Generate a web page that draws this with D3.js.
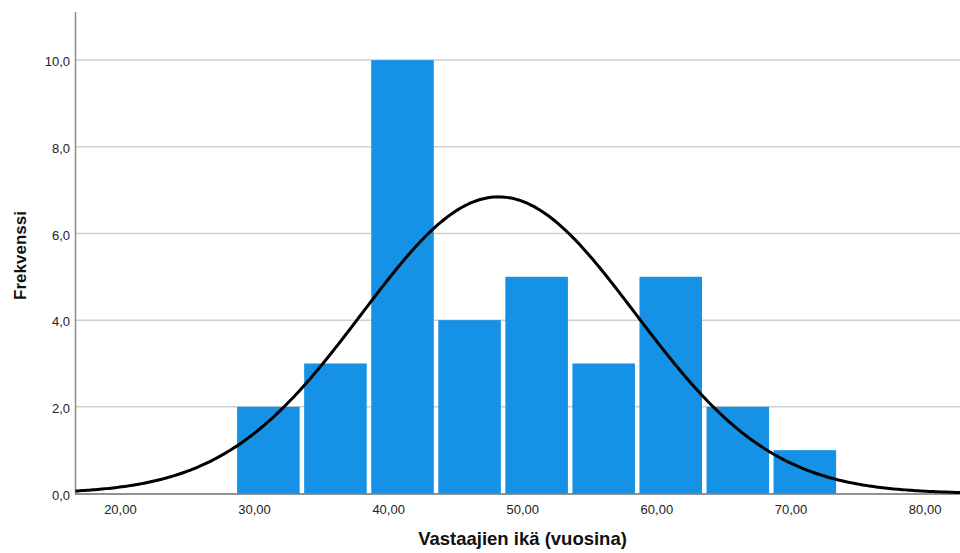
<!DOCTYPE html>
<html><head><meta charset="utf-8">
<script src="https://cdn.jsdelivr.net/npm/d3@7"></script>
<style>html,body{margin:0;padding:0;background:#fff;}svg{display:block;}</style>
</head><body>
<svg id="chart" width="960" height="553"></svg>
<script>
// Data
const binStart = 28.7;
const binWidth = 5;
const counts = [2, 3, 10, 4, 5, 3, 5, 2, 1];
const yTicks = [0, 2, 4, 6, 8, 10];
const xTicks = [20, 30, 40, 50, 60, 70, 80];
const curveMean = 48.2;
const curveSd = 10.2;
const totalN = 35;
const xLabel = "Vastaajien ikä (vuosina)";
const yLabel = "Frekvenssi";

const svg = d3.select("#chart");
const x = d3.scaleLinear().domain([16.65, 82.6]).range([75.5, 960]);
const y = d3.scaleLinear().domain([0, 11.11]).range([493.5, 12]);
const fmtY = v => d3.format(".1f")(v).replace(".", ",");
const fmtX = v => d3.format(".2f")(v).replace(".", ",");

// gridlines
svg.append("g").selectAll("line").data(yTicks.filter(d => d > 0)).join("line")
  .attr("x1", x.range()[0]).attr("x2", 960)
  .attr("y1", d => y(d)).attr("y2", d => y(d))
  .attr("stroke", "#cfcfcf").attr("stroke-width", 1.5);

// bars
const bins = counts.map((c, i) => ({x0: binStart + i * binWidth, x1: binStart + (i + 1) * binWidth, c}));
svg.append("g").selectAll("rect").data(bins).join("rect")
  .attr("x", d => x(d.x0))
  .attr("width", d => x(d.x1) - x(d.x0) - 4.5)
  .attr("y", d => y(d.c))
  .attr("height", d => y(0) - y(d.c))
  .attr("fill", "#1591e6");

// axes lines
svg.append("line").attr("x1", 75.5).attr("x2", 75.5).attr("y1", 12).attr("y2", 494)
  .attr("stroke", "#8c8c8c").attr("stroke-width", 1.5);
svg.append("line").attr("x1", 75).attr("x2", 960).attr("y1", 494).attr("y2", 494)
  .attr("stroke", "#6e6e6e").attr("stroke-width", 1.5);

// normal curve
const pdf = v => totalN * binWidth / (curveSd * Math.sqrt(2 * Math.PI)) * Math.exp(-((v - curveMean) ** 2) / (2 * curveSd * curveSd));
const xs = d3.range(0, 401).map(i => x.domain()[0] + (x.domain()[1] - x.domain()[0]) * i / 400);
svg.append("path").datum(xs)
  .attr("d", d3.line().x(d => x(d)).y(d => y(pdf(d))).curve(d3.curveLinear))
  .attr("fill", "none").attr("stroke", "#000").attr("stroke-width", 3);

// tick labels
svg.append("g").selectAll("text").data(yTicks).join("text")
  .attr("x", 70).attr("y", d => y(d) + 6.3)
  .attr("text-anchor", "end")
  .attr("font-family", "Liberation Sans, Arial, sans-serif").attr("font-size", 13)
  .attr("fill", "#222").text(fmtY);
svg.append("g").selectAll("text").data(xTicks).join("text")
  .attr("x", d => x(d)).attr("y", 513.5)
  .attr("text-anchor", "middle")
  .attr("font-family", "Liberation Sans, Arial, sans-serif").attr("font-size", 13)
  .attr("fill", "#222").text(fmtX);

// axis titles
svg.append("text").attr("x", 522.5).attr("y", 545)
  .attr("text-anchor", "middle")
  .attr("font-family", "Liberation Sans, Arial, sans-serif").attr("font-size", 18.5).attr("font-weight", "bold")
  .attr("fill", "#111").text(xLabel);
svg.append("text").attr("transform", "translate(25.5,255.5) rotate(-90)")
  .attr("text-anchor", "middle")
  .attr("font-family", "Liberation Sans, Arial, sans-serif").attr("font-size", 17).attr("font-weight", "bold")
  .attr("fill", "#111").text(yLabel);
</script>
</body></html>
